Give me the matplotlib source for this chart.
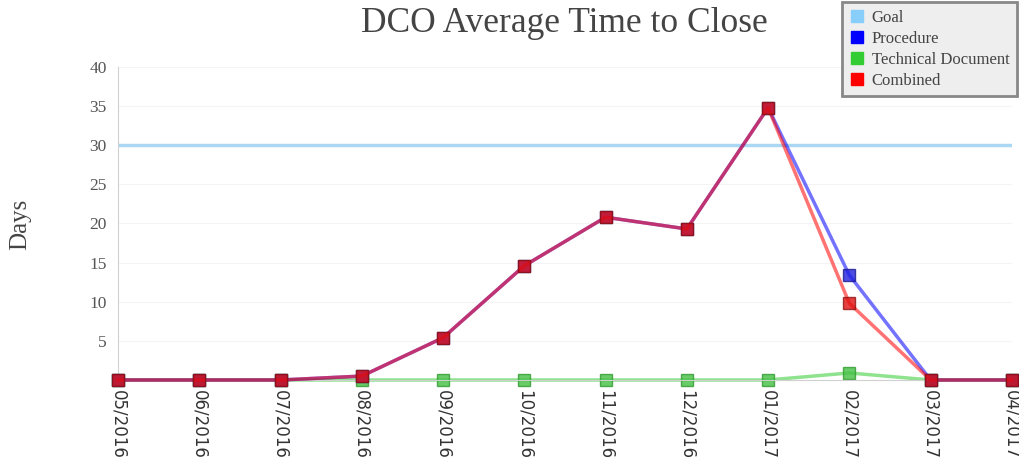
import numpy as np
import matplotlib.pyplot as plt
from matplotlib.lines import Line2D

months = ['05/2016', '06/2016', '07/2016', '08/2016', '09/2016', '10/2016',
          '11/2016', '12/2016', '01/2017', '02/2017', '03/2017', '04/2017']
goal = 30
procedure = [0, 0, 0, 0.5, 5.4, 14.6, 20.8, 19.3, 34.8, 13.4, 0, 0]
technical = [0, 0, 0, 0, 0, 0, 0, 0, 0, 0.9, 0, 0]
combined = [0, 0, 0, 0.5, 5.4, 14.6, 20.8, 19.3, 34.8, 9.8, 0, 0]

fig = plt.figure(figsize=(10.19, 4.62), dpi=100)
ax = fig.add_axes([0.1158, 0.1775, 0.8772, 0.6775])

x = np.arange(len(months))
ax.axhline(goal, color='#aad8f2', lw=2.5, zorder=1)

def series(vals, line_c, mark_c, edge_c, z):
    ax.plot(x, vals, color=line_c, lw=2.5, alpha=0.55, zorder=z, clip_on=False)
    ax.plot(x, vals, ls='none', marker='s', ms=9, mfc=mark_c, mec=edge_c,
            mew=1, alpha=0.8, zorder=z + 0.5, clip_on=False)

series(technical, '#33cc33', '#44c044', '#2f9a2f', 2)
series(procedure, '#0000ff', '#2020e0', '#1a1a90', 3)
series(combined, '#ff0000', '#e01010', '#901010', 4)

ax.set_xlim(0, 11)
ax.set_ylim(0, 40)
ax.set_yticks(range(5, 41, 5))
ax.set_xticks(x)
ax.set_xticklabels(months, rotation=270, fontsize=12, color='#333333',
                   family='DejaVu Sans')
for lab in ax.get_yticklabels():
    lab.set_fontfamily('Liberation Serif')
    lab.set_fontsize(12.5)
    lab.set_color('#555555')
ax.tick_params(axis='both', length=0, pad=8)
ax.tick_params(axis='x', pad=7)
ax.grid(axis='y', color='#f4f4f4', lw=0.8)
ax.set_axisbelow(True)
for s in ['top', 'right']:
    ax.spines[s].set_visible(False)
ax.spines['left'].set_color('#d0d0d0')
ax.spines['bottom'].set_color('#d0d0d0')

fig.text(0.02, 0.515, 'Days', rotation=90, ha='center', va='center',
         fontsize=18, family='Liberation Serif', color='#444444')
fig.text(0.554, 0.95, 'DCO Average Time to Close', ha='center', va='center',
         fontsize=25.5, family='Liberation Serif', color='#444444')

handles = [
    Line2D([], [], ls='none', marker='s', ms=8, mfc='#87cefa', mec='#87cefa'),
    Line2D([], [], ls='none', marker='s', ms=8, mfc='#0000ff', mec='#0000ff'),
    Line2D([], [], ls='none', marker='s', ms=8, mfc='#33cc33', mec='#33cc33'),
    Line2D([], [], ls='none', marker='s', ms=8, mfc='#ff0000', mec='#ff0000'),
]
leg = fig.legend(handles, ['Goal', 'Procedure', 'Technical Document', 'Combined'],
                 loc='upper right', bbox_to_anchor=(1.006, 1.013),
                 prop={'family': 'Liberation Serif', 'size': 12},
                 frameon=True, fancybox=False, handlelength=0.8,
                 handletextpad=0.5, labelspacing=0.3, borderpad=0.45)
leg.get_frame().set_facecolor('#eeeeee')
leg.get_frame().set_edgecolor('#888888')
leg.get_frame().set_linewidth(2)
leg.get_frame().set_alpha(1)
for t in leg.get_texts():
    t.set_color('#444444')

fig.savefig('out.png', dpi=100)
